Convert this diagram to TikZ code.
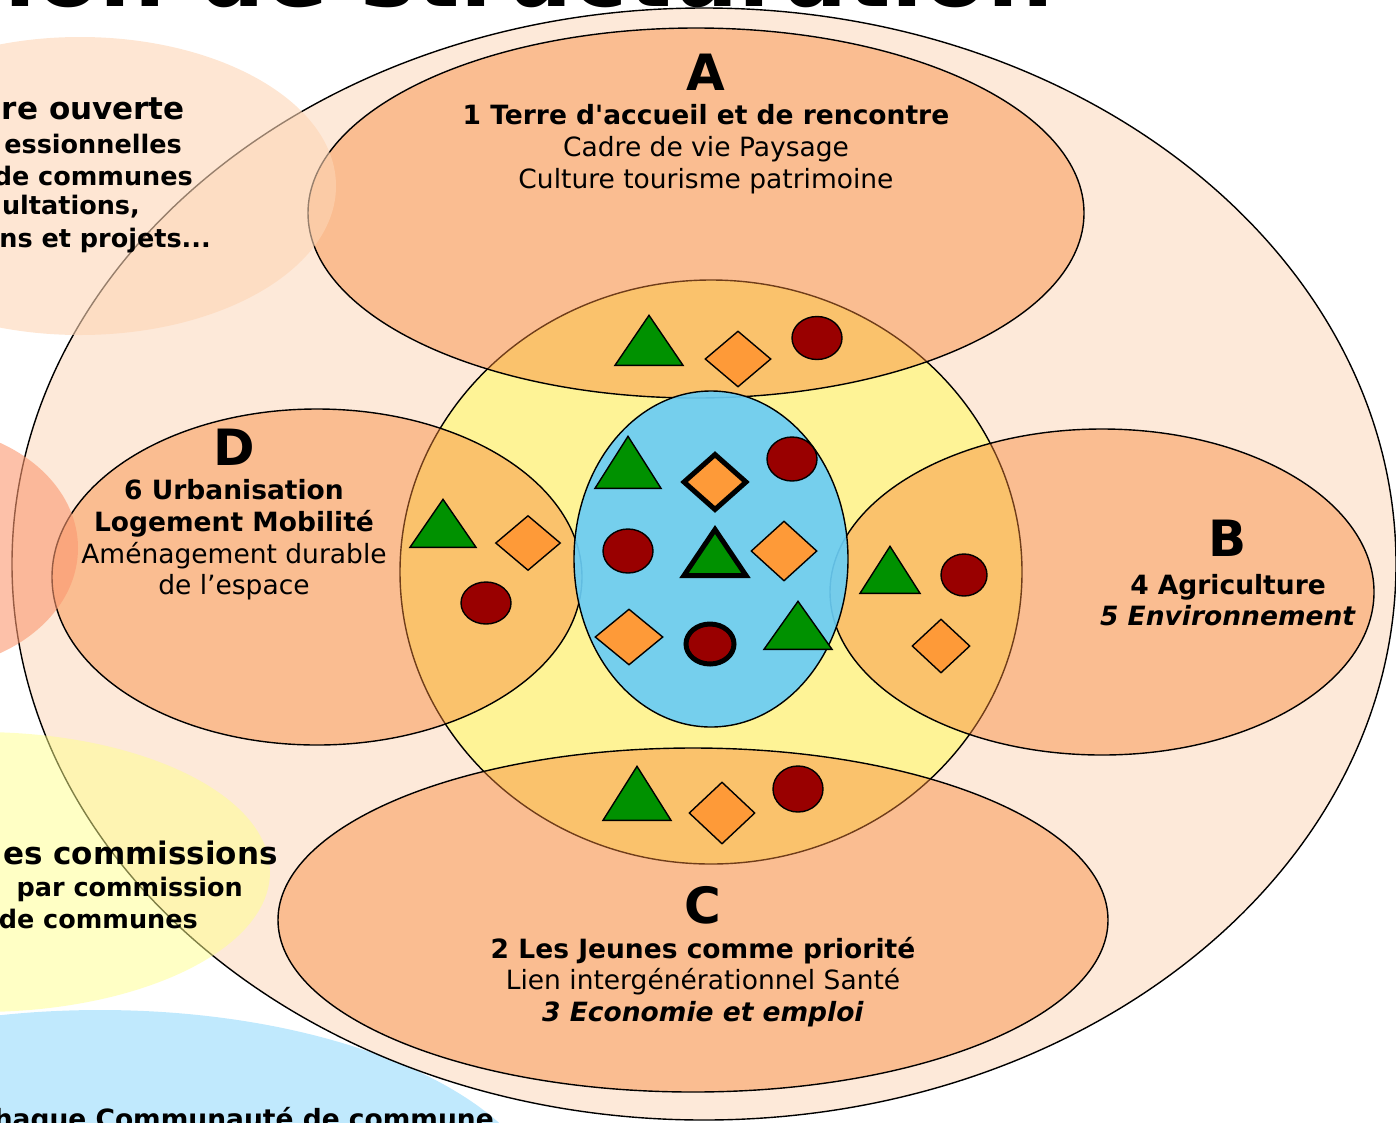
\documentclass[tikz,border=0pt]{standalone}
\usepackage{fontspec}
\setmainfont{DejaVu Sans}
\usepackage{xcolor}
\definecolor{bigpeach}{HTML}{FDE9D9}
\definecolor{zoneorange}{HTML}{F7883A}
\definecolor{coreyellow}{HTML}{FEF396}
\definecolor{coreblue}{HTML}{6ACDF5}
\definecolor{shapegreen}{HTML}{009100}
\definecolor{shapeorange}{HTML}{FE9A38}
\definecolor{shapered}{HTML}{990000}
\definecolor{sidepeach}{HTML}{FDD5B5}
\definecolor{sidesalmon}{HTML}{FB9870}
\definecolor{sideyellow}{HTML}{FFFF8C}
\definecolor{sideblue}{HTML}{C0E9FD}
\usetikzlibrary{shapes.geometric, positioning}

\begin{document}
\begin{tikzpicture}
  [
    x=1pt, y=-1pt,
    oval/.style={ellipse, draw=black, line width=1.4pt, inner sep=0pt},
    zone/.style={oval, fill=zoneorange, fill opacity=0.45},
    side/.style={ellipse, inner sep=0pt, fill opacity=0.6},
    tri/.style={isosceles triangle, isosceles triangle stretches, shape border rotate=90,
      draw=black, line width=1.4pt, fill=shapegreen, inner sep=0pt,
      minimum width=68pt, minimum height=50pt, anchor=lower side},
    dia/.style={diamond, draw=black, line width=1.4pt, fill=shapeorange, inner sep=0pt,
      minimum width=66pt, minimum height=56pt},
    dot/.style={ellipse, draw=black, line width=1.4pt, fill=shapered, inner sep=0pt,
      minimum width=50pt, minimum height=43pt},
    heavy/.style={line width=5pt},
    letter/.style={font=\fontsize{50}{60}\selectfont\bfseries, inner sep=0pt},
    theme/.style={font=\fontsize{26.5}{31.7}\selectfont, align=center, inner sep=0pt},
    aside/.style={font=\fontsize{25.5}{31.7}\selectfont\bfseries, inner sep=0pt, anchor=base east},
    bigaside/.style={aside, font=\fontsize{31}{36}\selectfont\bfseries}
  ]
  \useasboundingbox (0,0) rectangle (1396,1122);
  \clip (0,0) rectangle (1396,1122);

  \node[font=\fontsize{93}{100}\selectfont\bfseries, inner sep=0pt, anchor=base west] (title)
    at (4,6) {ion de structuration};

  \node[ellipse, fill=sideblue, inner sep=0pt, minimum width=900pt, minimum height=420pt] (sideD) at (100,1220) {};
  \node[oval, fill=bigpeach, minimum width=1384pt, minimum height=1112pt] (outer) at (704,564) {};
  \node[oval, fill=coreyellow, minimum width=622pt, minimum height=584pt] (ring) at (711,572) {};

  \node[zone, minimum width=776pt, minimum height=370pt] (zoneA) at (696,213) {};
  \node[zone, minimum width=544pt, minimum height=326pt] (zoneB) at (1102,592) {};
  \node[zone, minimum width=830pt, minimum height=344pt] (zoneC) at (693,920) {};
  \node[zone, minimum width=530pt, minimum height=336pt] (zoneD) at (317,577) {};

  \node[oval, fill=coreblue, fill opacity=0.92, minimum width=274pt, minimum height=336pt] (core) at (711,559) {};

  \node[side, fill=sidepeach, minimum width=512pt, minimum height=298pt] (sideA) at (80,186) {};
  \node[side, fill=sidesalmon, minimum width=316pt, minimum height=244pt] (sideB) at (-80,548) {};
  \node[side, fill=sideyellow, fill opacity=0.5, minimum width=580pt, minimum height=280pt] (sideC) at (-20,872) {};

  % zone A
  \node[tri] (triA) at (649,366) {};
  \node[dia] (diaA) at (738,359) {};
  \node[dot] (dotA) at (817,338) {};
  % zone B
  \node[tri, minimum width=60pt, minimum height=47pt] (triB) at (890,594) {};
  \node[dot, minimum width=46pt, minimum height=42pt] (dotB) at (964,575) {};
  \node[dia, minimum width=58pt, minimum height=54pt] (diaB) at (941,646) {};
  % zone C
  \node[tri, minimum height=54pt] (triC) at (637,821) {};
  \node[dia, minimum height=62pt] (diaC) at (722,813) {};
  \node[dot, minimum height=46pt] (dotC) at (798,789) {};
  % zone D
  \node[tri, minimum width=66pt, minimum height=48pt] (triD) at (443,548) {};
  \node[dia, minimum width=65pt, minimum height=55pt] (diaD) at (528,543) {};
  \node[dot, minimum height=42pt] (dotD) at (486,603) {};
  % core
  \node[tri, minimum width=66pt, minimum height=52pt] (triE) at (628,489) {};
  \node[dia, heavy, minimum width=64pt, minimum height=57pt] (diaE) at (715,482) {};
  \node[dot, minimum height=44pt] (dotE) at (792,459) {};
  \node[dot, minimum height=44pt] (dotF) at (628,551) {};
  \node[tri, heavy, minimum width=62pt, minimum height=46pt] (triF) at (715,578) {};
  \node[dia, minimum width=66pt, minimum height=60pt] (diaF) at (784,551) {};
  \node[dia, minimum width=68pt, minimum height=56pt] (diaG) at (629,637) {};
  \node[dot, heavy, minimum width=48pt, minimum height=40pt] (dotG) at (710,644) {};
  \node[tri, minimum height=48pt] (triG) at (798,650) {};

  \node[letter] (letA) at (706,72) {A};
  \node[theme] (textA) at (706,149) {\textbf{1 Terre d\textquotesingle accueil et de rencontre}\\
    Cadre de vie Paysage\\Culture tourisme patrimoine};
  \node[letter] (letB) at (1228,538) {B};
  \node[theme] (textB) at (1228,600) {\textbf{4 Agriculture}\\\textbf{\textit{5 Environnement}}};
  \node[letter] (letC) at (703,905) {C};
  \node[theme] (textC) at (703,982) {\textbf{2 Les Jeunes comme priorité}\\
    Lien intergénérationnel Santé\\\textbf{\textit{3 Economie et emploi}}};
  \node[letter] (letD) at (234,447) {D};
  \node[theme] (textD) at (234,540) {\textbf{6 Urbanisation}\\\textbf{Logement Mobilité}\\
    Aménagement durable\\de l’espace};

  \node[bigaside] (noteA1) at (185,119) {re ouverte};
  \node[aside] (noteA2) at (182,153) {essionnelles};
  \node[aside] (noteA3) at (193,185) {de communes};
  \node[aside] (noteA4) at (140,214) {ultations,};
  \node[aside] (noteA5) at (211,247) {ns et projets...};
  \node[bigaside] (noteC1) at (278,864) {es commissions};
  \node[aside] (noteC2) at (243,896) {par commission};
  \node[aside] (noteC3) at (198,928) {de communes};
  \node[aside, font=\fontsize{26.5}{31.7}\selectfont\bfseries] (noteD1) at (494,1128) {haque Communauté de commune};
\end{tikzpicture}
\end{document}
